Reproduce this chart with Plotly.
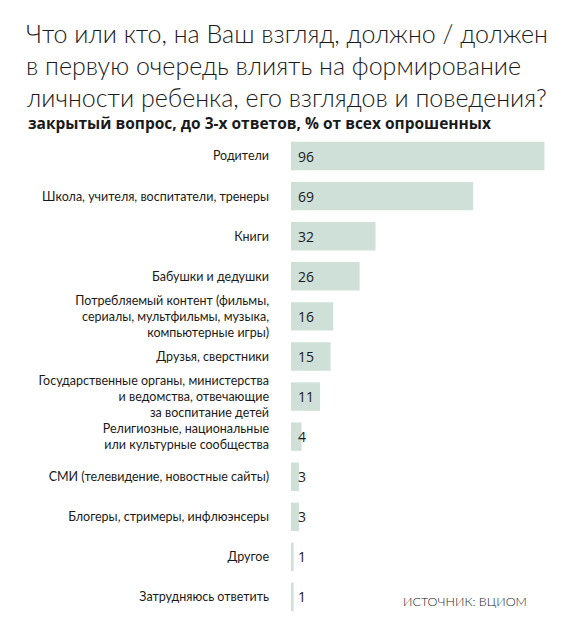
import plotly.graph_objects as go

categories = [
    "Родители",
    "Школа, учителя, воспитатели, тренеры",
    "Книги",
    "Бабушки и дедушки",
    "Потребляемый контент (фильмы,<br>сериалы, мультфильмы, музыка,<br>компьютерные игры)",
    "Друзья, сверстники",
    "Государственные органы, министерства<br>и ведомства, отвечающие<br>за воспитание детей",
    "Религиозные, национальные<br>или культурные сообщества",
    "СМИ (телевидение, новостные сайты)",
    "Блогеры, стримеры, инфлюэнсеры",
    "Другое",
    "Затрудняюсь ответить",
]
values = [96, 69, 32, 26, 16, 15, 11, 4, 3, 3, 1, 1]

title_lines = [
    "Что или кто, на Ваш взгляд, должно / должен",
    "в первую очередь влиять на формирование",
    "личности ребенка, его взглядов и поведения?",
]
subtitle = "закрытый вопрос, до 3-х ответов, % от всех опрошенных"
source = "ИСТОЧНИК: ВЦИОМ"

BAR = "#cfe0d9"
TXT = "#1a1a1a"

fig = go.Figure()
fig.add_trace(go.Bar(
    x=values, y=categories, orientation="h",
    marker=dict(color=BAR, line=dict(width=0)),
    hoverinfo="skip",
))

W, H = 585, 643
ml, mr, mt, mb = 291, 30, 136, 26
fig.update_layout(
    width=W, height=H,
    margin=dict(l=ml, r=mr, t=mt, b=mb),
    paper_bgcolor="white", plot_bgcolor="white",
    showlegend=False, bargap=0.29,
    xaxis=dict(range=[0, 100], visible=False, fixedrange=True),
    yaxis=dict(
        autorange="reversed", showgrid=False, zeroline=False, showline=False,
        ticks="", ticklabelstandoff=21,
        tickfont=dict(family="Lato", size=12.5, color=TXT),
    ),
)

anns = []
for c, v in zip(categories, values):
    anns.append(dict(
        x=0, y=c, xref="x", yref="y", text=str(v), xanchor="left",
        xshift=5, yanchor="middle", showarrow=False,
        font=dict(family="Open Sans", size=14, color=TXT),
    ))
for i, line in enumerate(title_lines):
    anns.append(dict(
        text=line, xref="paper", yref="paper",
        x=-(ml - 24) / (W - ml - mr), xanchor="left",
        y=1 + (mt - (43 + 32 * i)) / (H - mt - mb), yanchor="bottom",
        yshift=-7,
        showarrow=False,
        font=dict(family="Lato", size=25, color=TXT, weight=300),
    ))
anns.append(dict(
    text=subtitle, xref="paper", yref="paper",
    x=-(ml - 26) / (W - ml - mr), xanchor="left",
    y=1 + (mt - 123) / (H - mt - mb), yanchor="middle",
    showarrow=False,
    font=dict(family="Open Sans", size=15.5, color=TXT, weight=700),
))
anns.append(dict(
    text=source, xref="paper", yref="paper",
    x=(529 - ml) / (W - ml - mr), xanchor="right",
    y=1 - (601 - mt) / (H - mt - mb), yanchor="middle",
    showarrow=False,
    font=dict(family="Lato", size=12.5, color=TXT, weight=300),
))
fig.update_layout(annotations=anns)

fig.write_html("out.html")
